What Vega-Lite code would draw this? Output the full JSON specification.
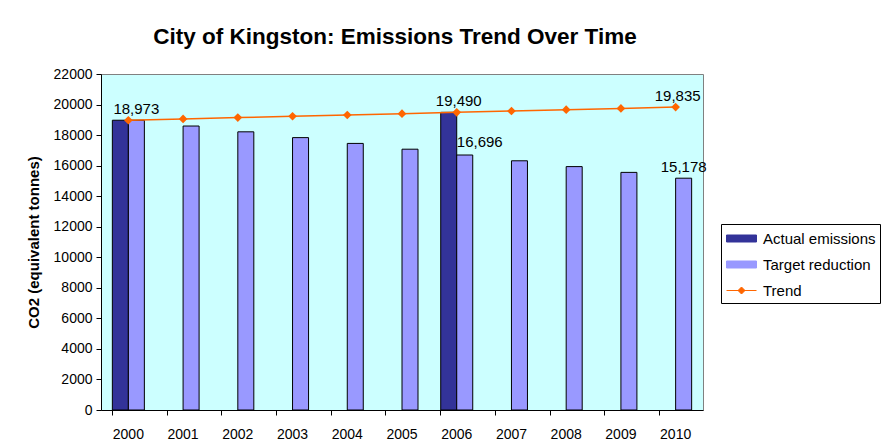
{
  "$schema": "https://vega.github.io/schema/vega-lite/v6.json",
  "width": 602,
  "height": 336,
  "autosize": {"type": "none"},
  "padding": {"left": 101, "top": 74, "right": 186, "bottom": 35},
  "background": "white",
  "title": {
    "text": "City of Kingston: Emissions Trend Over Time",
    "font": "Liberation Sans",
    "fontSize": 22.5,
    "fontWeight": "bold",
    "color": "black",
    "anchor": "middle",
    "frame": "group",
    "dx": -7,
    "offset": 19
  },
  "config": {
    "view": {"fill": "#CCFFFF", "stroke": "#808080", "strokeWidth": 1},
    "font": "Liberation Sans"
  },
  "data": {
    "values": [
      {"year": "2000", "series": "Actual emissions", "value": 18973},
      {"year": "2006", "series": "Actual emissions", "value": 19490},
      {"year": "2000", "series": "Target reduction", "value": 18973},
      {"year": "2001", "series": "Target reduction", "value": 18594},
      {"year": "2002", "series": "Target reduction", "value": 18214},
      {"year": "2003", "series": "Target reduction", "value": 17835},
      {"year": "2004", "series": "Target reduction", "value": 17455},
      {"year": "2005", "series": "Target reduction", "value": 17076},
      {"year": "2006", "series": "Target reduction", "value": 16696},
      {"year": "2007", "series": "Target reduction", "value": 16317},
      {"year": "2008", "series": "Target reduction", "value": 15937},
      {"year": "2009", "series": "Target reduction", "value": 15558},
      {"year": "2010", "series": "Target reduction", "value": 15178},
      {"year": "2000", "series": "Trend", "value": 18973},
      {"year": "2001", "series": "Trend", "value": 19059},
      {"year": "2002", "series": "Trend", "value": 19145},
      {"year": "2003", "series": "Trend", "value": 19231},
      {"year": "2004", "series": "Trend", "value": 19318},
      {"year": "2005", "series": "Trend", "value": 19404},
      {"year": "2006", "series": "Trend", "value": 19490},
      {"year": "2007", "series": "Trend", "value": 19576},
      {"year": "2008", "series": "Trend", "value": 19663},
      {"year": "2009", "series": "Trend", "value": 19749},
      {"year": "2010", "series": "Trend", "value": 19835}
    ]
  },
  "encoding": {
    "x": {
      "field": "year",
      "type": "nominal",
      "scale": {"paddingInner": 0.415, "paddingOuter": 0.2075},
      "axis": {
        "title": null,
        "labelAngle": 0,
        "labelFont": "Liberation Sans",
        "labelFontSize": 14,
        "labelColor": "black",
        "bandPosition": 0,
        "tickSize": 5,
        "tickColor": "black",
        "domainColor": "black",
        "labelPadding": 12,
        "grid": false
      }
    },
    "y": {
      "field": "value",
      "type": "quantitative",
      "scale": {"domain": [0, 22000], "nice": false},
      "axis": {
        "title": "CO2 (equivalent tonnes)",
        "titleFont": "Liberation Sans",
        "titleFontSize": 15,
        "titleFontWeight": "bold",
        "titleColor": "black",
        "titlePadding": 12,
        "values": [0, 2000, 4000, 6000, 8000, 10000, 12000, 14000, 16000, 18000, 20000, 22000],
        "format": "d",
        "labelFont": "Liberation Sans",
        "labelFontSize": 14,
        "labelColor": "black",
        "tickSize": 5,
        "tickColor": "black",
        "domainColor": "black",
        "labelPadding": 4,
        "grid": false
      }
    }
  },
  "layer": [
    {
      "transform": [{"filter": "datum.series !== 'Trend'"}],
      "mark": {"type": "bar", "stroke": "black", "strokeWidth": 1},
      "encoding": {
        "xOffset": {
          "field": "series",
          "type": "nominal",
          "scale": {"domain": ["Actual emissions", "Target reduction"], "paddingInner": 0}
        },
        "color": {
          "field": "series",
          "type": "nominal",
          "scale": {
            "domain": ["Actual emissions", "Target reduction", "Trend"],
            "range": ["#333399", "#9999FF", "#FF6600"]
          },
          "legend": {
            "title": null,
            "orient": "none",
            "legendX": 620,
            "legendY": 150,
            "strokeColor": "black",
            "fillColor": "white",
            "padding": 4,
            "rowPadding": 7,
            "symbolSize": 400,
            "symbolOffset": 6,
            "labelOffset": 11,
            "labelFont": "Liberation Sans",
            "labelFontSize": 15,
            "labelColor": "black",
            "symbolType": "M-1.5,-0.35H1.5V0.35H-1.5Z",
            "symbolStrokeColor": "black",
            "symbolStrokeWidth": 1,
            "encode": {
              "symbols": {
                "update": {
                  "shape": {"signal": "datum.value === 'Trend' ? 'M-1.5,0H1.5M0,-0.35L0.35,0L0,0.35L-0.35,0Z' : 'M-1.5,-0.35H1.5V0.35H-1.5Z'"},
                  "stroke": {"signal": "datum.value === 'Trend' ? '#FF6600' : 'black'"},
                  "strokeWidth": {"value": 1}
                }
              }
            }
          }
        }
      }
    },
    {
      "transform": [{"filter": "datum.series === 'Trend'"}],
      "mark": {"type": "line", "strokeWidth": 1.5, "point": {"shape": "diamond", "size": 75, "filled": true}},
      "encoding": {
        "color": {"field": "series", "type": "nominal", "legend": null}
      }
    },
    {
      "transform": [{"filter": "datum.series === 'Target reduction' && (datum.year === '2000' || datum.year === '2010')"}],
      "mark": {"type": "text", "baseline": "alphabetic", "dy": -6, "fontSize": 15, "font": "Liberation Sans", "color": "black"},
      "encoding": {
        "xOffset": {
          "field": "series",
          "type": "nominal",
          "scale": {"domain": ["Actual emissions", "Target reduction"], "paddingInner": 0}
        },
        "text": {"field": "value", "type": "quantitative", "format": ",d"}
      }
    },
    {
      "transform": [{"filter": "datum.series === 'Target reduction' && datum.year === '2006'"}],
      "mark": {"type": "text", "baseline": "alphabetic", "dy": -8, "dx": 15, "fontSize": 15, "font": "Liberation Sans", "color": "black"},
      "encoding": {
        "xOffset": {
          "field": "series",
          "type": "nominal",
          "scale": {"domain": ["Actual emissions", "Target reduction"], "paddingInner": 0}
        },
        "text": {"field": "value", "type": "quantitative", "format": ",d"}
      }
    },
    {
      "transform": [{"filter": "datum.series === 'Trend' && (datum.year === '2006' || datum.year === '2010')"}],
      "mark": {"type": "text", "baseline": "alphabetic", "dy": -6, "dx": 2, "fontSize": 15, "font": "Liberation Sans", "color": "black"},
      "encoding": {
        "text": {"field": "value", "type": "quantitative", "format": ",d"}
      }
    }
  ]
}
